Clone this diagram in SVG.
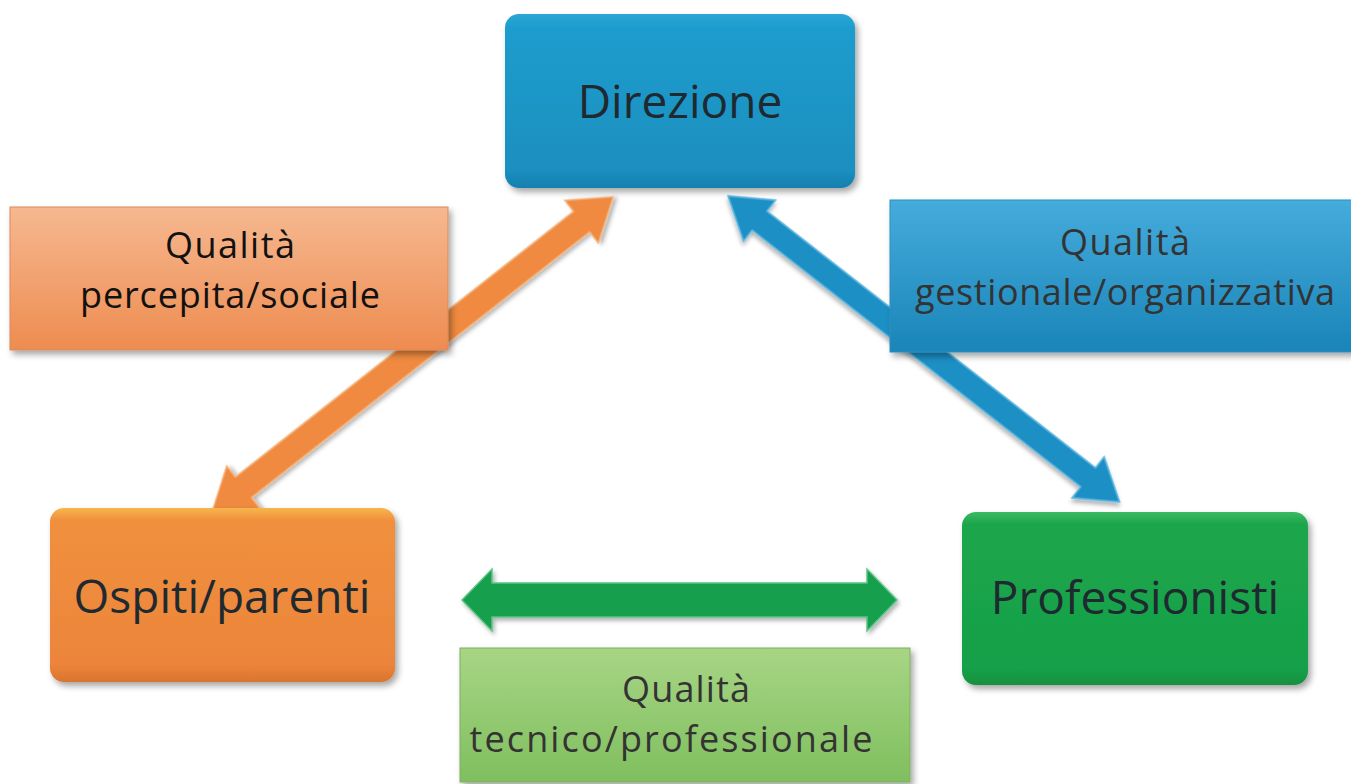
<svg xmlns="http://www.w3.org/2000/svg" width="1351" height="784" viewBox="0 0 1351 784">
<style>
.node-text{font-family:"Open Sans","Noto Sans","Liberation Sans",sans-serif;font-size:46px;fill:#1f2a30;text-anchor:middle}
.label-text{font-family:"Open Sans","Noto Sans","Liberation Sans",sans-serif;font-size:36px;text-anchor:middle}
</style>
<defs>
<filter id="sh" x="-10%" y="-10%" width="125%" height="130%">
<feDropShadow dx="3" dy="4" stdDeviation="3" flood-color="#000" flood-opacity="0.35"/>
</filter>
<filter id="shs" x="-10%" y="-10%" width="125%" height="130%">
<feDropShadow dx="2" dy="3" stdDeviation="2" flood-color="#000" flood-opacity="0.3"/>
</filter>
<linearGradient id="gBlue" x1="0" y1="0" x2="0" y2="1">
<stop offset="0" stop-color="#2aa6d6"/><stop offset="0.08" stop-color="#1d9dcd"/><stop offset="0.9" stop-color="#1a8fbf"/><stop offset="1" stop-color="#167fae"/>
</linearGradient>
<linearGradient id="gOrange" x1="0" y1="0" x2="0" y2="1">
<stop offset="0" stop-color="#f7b64a"/><stop offset="0.07" stop-color="#f0903e"/><stop offset="0.9" stop-color="#ec853a"/><stop offset="1" stop-color="#d9742e"/>
</linearGradient>
<linearGradient id="gGreen" x1="0" y1="0" x2="0" y2="1">
<stop offset="0" stop-color="#3cb864"/><stop offset="0.07" stop-color="#1ca64c"/><stop offset="0.9" stop-color="#17a049"/><stop offset="1" stop-color="#12903f"/>
</linearGradient>
<linearGradient id="lOrange" x1="0" y1="0" x2="0" y2="1">
<stop offset="0" stop-color="#f6b890"/><stop offset="1" stop-color="#ee8c50"/>
</linearGradient>
<linearGradient id="lBlue" x1="0" y1="0" x2="0" y2="1">
<stop offset="0" stop-color="#45acdc"/><stop offset="1" stop-color="#1a84b8"/>
</linearGradient>
<linearGradient id="lGreen" x1="0" y1="0" x2="0" y2="1">
<stop offset="0" stop-color="#a8d585"/><stop offset="1" stop-color="#7fbf5e"/>
</linearGradient>
</defs>
<rect width="1351" height="784" fill="#ffffff"/>

<g id="connectors">
<polygon filter="url(#shs)" fill="#ef8a40" stroke="#f5b27a" stroke-width="1.5" transform="translate(212,512) rotate(-38.15)" points="0,0 40,-27 40,-13 470,-13 470,-27 510,0 470,27 470,13 40,13 40,27"/>
<polygon filter="url(#shs)" fill="#1f8fc4" stroke="#5bb7e0" stroke-width="1.5" transform="translate(728,196) rotate(38)" points="0,0 40,-26 40,-12 457,-12 457,-26 497,0 457,26 457,12 40,12 40,26"/>
<polygon filter="url(#shs)" fill="#12a04e" stroke="#5cc486" stroke-width="1.5" transform="translate(462,600)" points="0,0 30,-31 30,-17 405,-17 405,-31 435,0 405,31 405,17 30,17 30,31"/>
</g>

<g id="direzione">
<rect x="505" y="14" width="350" height="174" rx="14" fill="url(#gBlue)" filter="url(#sh)"/>
<text class="node-text" x="680" y="118">Direzione</text>
</g>

<g id="ospiti">
<rect x="50" y="508" width="345" height="174" rx="14" fill="url(#gOrange)" filter="url(#sh)"/>
<text class="node-text" x="222" y="613">Ospiti/parenti</text>
</g>

<g id="professionisti">
<rect x="962" y="512" width="346" height="173" rx="14" fill="url(#gGreen)" filter="url(#sh)"/>
<text class="node-text" x="1135" y="614">Professionisti</text>
</g>

<g id="label-percepita">
<rect x="10" y="207" width="438" height="143" fill="url(#lOrange)" stroke="#d98a5a" stroke-width="1" filter="url(#sh)"/>
<text class="label-text" x="230" y="258" fill="#111" textLength="130">Qualità</text>
<text class="label-text" x="230" y="308" fill="#111" textLength="300">percepita/sociale</text>
</g>

<g id="label-gestionale">
<rect x="890" y="200" width="470" height="152" fill="url(#lBlue)" stroke="#2d8fc0" stroke-width="1" filter="url(#sh)"/>
<text class="label-text" x="1125" y="255" fill="#333" textLength="130">Qualità</text>
<text class="label-text" x="1125" y="305" fill="#333" textLength="420">gestionale/organizzativa</text>
</g>

<g id="label-tecnico">
<rect x="460" y="648" width="450" height="134" fill="url(#lGreen)" stroke="#7fae62" stroke-width="1" filter="url(#sh)"/>
<text class="label-text" x="686" y="702" fill="#333" textLength="128">Qualità</text>
<text class="label-text" x="671" y="752" fill="#333" textLength="403">tecnico/professionale</text>
</g>
</svg>
